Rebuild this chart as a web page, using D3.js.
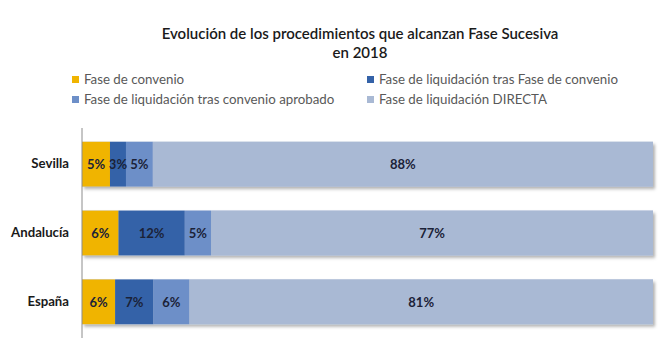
<!DOCTYPE html>
<html><head><meta charset="utf-8">
<script src="https://cdn.jsdelivr.net/npm/d3@7"></script>
<style>body{margin:0;background:#fff}svg{display:block}</style>
</head><body>
<script>
const categories = ["Sevilla", "Andalucía", "España"];
const seriesNames = ["Fase de convenio", "Fase de liquidación tras Fase de convenio", "Fase de liquidación tras convenio aprobado", "Fase de liquidación DIRECTA"];
const faseConvenio = [4.9, 6.4, 5.8];
const liqTrasFase = [2.8, 11.6, 6.7];
const liqTrasAprobado = [4.7, 4.6, 6.3];
const liqDirecta = [87.6, 77.4, 81.2];
const colors = ["#F0B400", "#3462A8", "#6D8FC8", "#A9B9D4"];
const titleLines = ["Evolución de los procedimientos que alcanzan Fase Sucesiva", "en 2018"];

const W = 672, H = 356;
const FONT = "Lato, sans-serif";
const svg = d3.select("body").append("svg").attr("width", W).attr("height", H);
const defs = svg.append("defs");
const f = defs.append("filter").attr("id", "sh").attr("x", "-5%").attr("y", "-20%").attr("width", "115%").attr("height", "150%");
f.append("feDropShadow").attr("dx", 2).attr("dy", 2.5).attr("stdDeviation", 1.5).attr("flood-color", "#000").attr("flood-opacity", 0.3);

const data = categories.map((c, i) => ({cat: c, s0: faseConvenio[i], s1: liqTrasFase[i], s2: liqTrasAprobado[i], s3: liqDirecta[i]}));
const keys = ["s0", "s1", "s2", "s3"];
const stacked = d3.stack().keys(keys)(data);

const x = d3.scaleLinear().domain([0, 100]).range([82, 653]);
const y = d3.scaleBand().domain(categories).range([128, 338]).paddingInner(0.35).paddingOuter(0.2);

// title
titleLines.forEach((l, i) => {
  svg.append("text").attr("text-anchor", "middle").attr("font-family", FONT)
    .attr("font-size", 15).attr("font-weight", 600).attr("fill", "#1a1a1a")
    .attr("x", 360).attr("y", 39 + i * 19).text(l);
});

// legend
const legPos = [[72, 84], [367, 84], [72, 104], [367, 104]];
seriesNames.forEach((n, i) => {
  const g = svg.append("g").attr("transform", `translate(${legPos[i][0]},${legPos[i][1]})`);
  g.append("rect").attr("x", 0).attr("y", -8).attr("width", 7).attr("height", 7).attr("fill", colors[i]);
  g.append("text").attr("x", 12).attr("y", 0).attr("font-family", FONT).attr("font-size", 13.3)
    .attr("fill", "#595959").text(n);
});

// row backgrounds with shadow
svg.append("g").selectAll("rect").data(data).join("rect")
  .attr("x", x(0)).attr("width", d => x(d.s0 + d.s1 + d.s2 + d.s3) - x(0))
  .attr("y", d => y(d.cat)).attr("height", y.bandwidth()).attr("fill", colors[3]).attr("filter", "url(#sh)");

// bars
const layers = svg.append("g").selectAll("g").data(stacked).join("g").attr("fill", (d, i) => colors[i]);
layers.selectAll("rect").data(d => d).join("rect")
  .attr("x", d => x(d[0])).attr("width", d => x(d[1]) - x(d[0]))
  .attr("y", d => y(d.data.cat)).attr("height", y.bandwidth());

// value labels
stacked.forEach((layer, i) => {
  svg.append("g").selectAll("text").data(layer).join("text")
    .attr("x", d => (x(d[0]) + x(d[1])) / 2).attr("y", d => y(d.data.cat) + y.bandwidth() / 2 + 5)
    .attr("text-anchor", "middle").attr("font-family", FONT).attr("font-size", 13).attr("font-weight", 700)
    .attr("fill", "#1b2238").text(d => Math.round(d[1] - d[0]) + "%");
});

// axis
const ax = svg.append("g").attr("transform", `translate(${x(0)},0)`)
  .call(d3.axisLeft(y).tickSize(0).tickPadding(13));
ax.select(".domain").attr("stroke", "#8c8c8c").attr("d", "M0,128V338");
ax.selectAll("text").attr("font-family", FONT).attr("font-size", 13.2).attr("font-weight", 700).attr("fill", "#1a1a1a");
</script>
</body></html>
